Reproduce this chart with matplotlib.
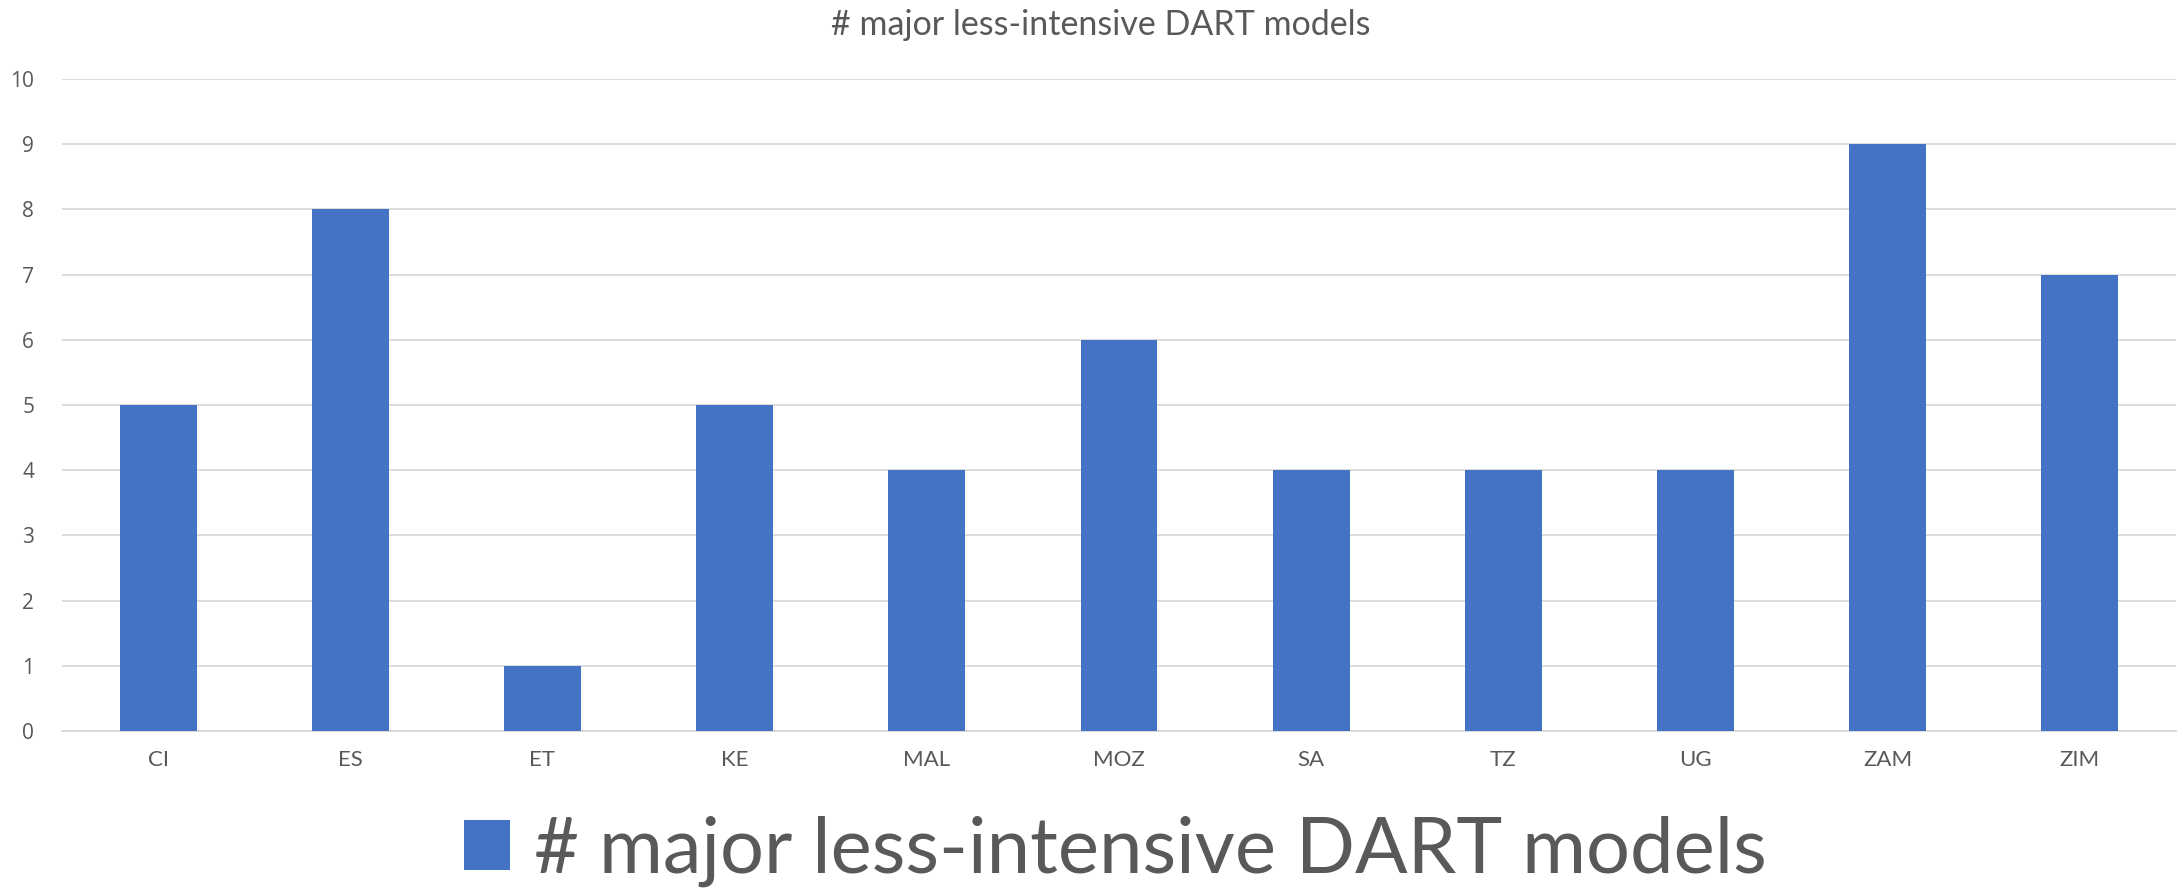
import matplotlib.pyplot as plt
import numpy as np

# values
countries = ["CI", "ES", "ET", "KE", "MAL", "MOZ", "SA", "TZ", "UG", "ZAM", "ZIM"]
models = [5, 8, 1, 5, 4, 6, 4, 4, 4, 9, 7]
yticks = list(range(0, 11))
series_name = "# major less-intensive DART models"

bar_color = "#4472C4"
text_color = "#595959"
grid_color = "#D9D9D9"

fig = plt.figure(figsize=(21.83, 8.88), dpi=100)
ax = fig.add_axes([62 / 2183, 1 - 731 / 888, (2176 - 62) / 2183, (731 - 79) / 888])

x = np.arange(len(countries))
ax.bar(x, models, width=0.4, color=bar_color, label=series_name, zorder=3)

ax.set_xlim(-0.5, len(countries) - 0.5)
ax.set_ylim(0, 10)
ax.set_yticks(yticks)
ax.set_xticks(x)
ax.set_xticklabels(countries, fontsize=16, color=text_color, family="Lato")
for lbl in ax.get_yticklabels():
    lbl.set_fontsize(15)
    lbl.set_color(text_color)
    lbl.set_family("Open Sans")

ax.grid(axis="y", color=grid_color, linewidth=1.3, zorder=0)
ax.tick_params(axis="both", length=0)
ax.tick_params(axis="x", pad=14)
ax.tick_params(axis="y", pad=20)
for side in ["top", "right", "left"]:
    ax.spines[side].set_visible(False)
ax.spines["bottom"].set_color(grid_color)
ax.spines["bottom"].set_linewidth(1.3)

fig.text(1101 / 2183, 1 - 25 / 888, series_name, ha="center", va="center",
         fontsize=24.5, color=text_color, family="Lato")

fig.legend(loc="center", bbox_to_anchor=(1115 / 2183, 1 - 851 / 888),
           frameon=False, prop={"family": "Lato", "size": 56},
           labelcolor=text_color, handlelength=0.6, handleheight=0.6,
           handletextpad=0.3)

fig.savefig("out.png", dpi=100)
